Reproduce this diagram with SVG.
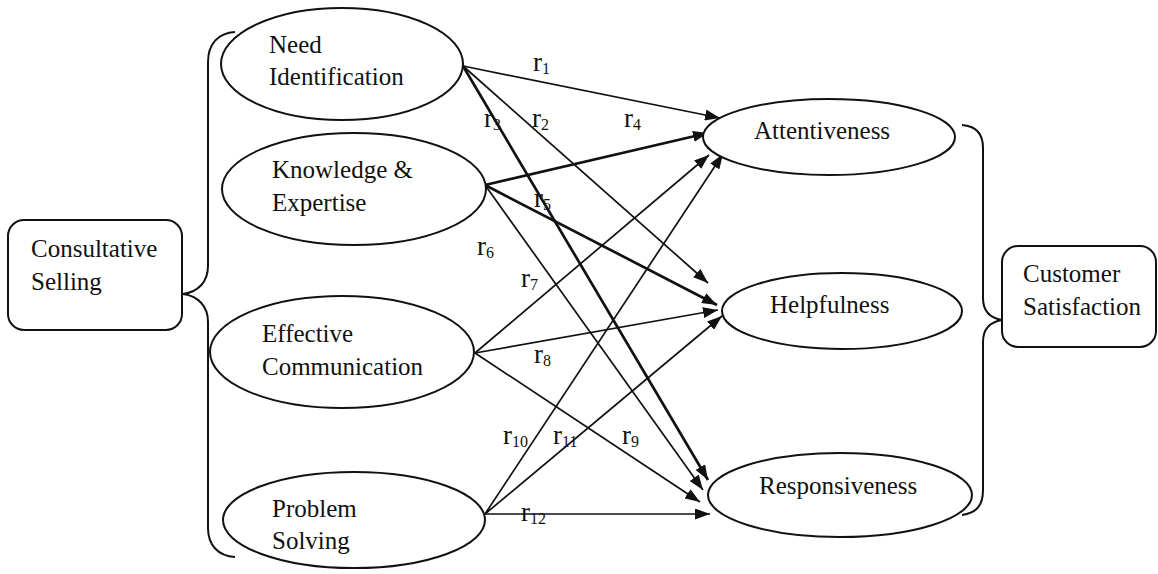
<svg xmlns="http://www.w3.org/2000/svg" width="1158" height="574" viewBox="0 0 1158 574">
<defs>
<style>
.node{fill:#fff;stroke:#111;stroke-width:2}
.brace{fill:none;stroke:#111;stroke-width:2}
text{font-family:'Liberation Serif','DejaVu Serif',serif;fill:#111}
.t{font-size:25px}
.r{font-size:27px}
.sub{font-size:16px}
.c{stroke:#111;stroke-width:1.7;fill:none;marker-end:url(#ah)}
.k{stroke-width:2.7}
</style>
<marker id="ah" markerUnits="userSpaceOnUse" markerWidth="15" markerHeight="11" refX="15" refY="5.5" orient="auto">
<path d="M0,0 L15,5.5 L0,11 z" fill="#111"/>
</marker>
</defs>
<rect width="1158" height="574" fill="#fff"/>

<g id="braces">
<path class="brace" d="M235,32 C218,33 208,44 208,62 L208,266 C208,282 198,292 183,294 C198,296 208,306 208,322 L208,528 C208,545 218,556 235,557"/>
<path class="brace" d="M962,125 C976,126 983,134 983,148 L983,298 C983,311 990,318 1002,320 C990,322 983,329 983,342 L983,490 C983,506 976,513 962,515"/>
</g>

<g id="connectors">
<line class="c" x1="463" y1="66" x2="720" y2="118"/>
<line class="c" x1="463" y1="66" x2="708" y2="283"/>
<line class="c k" x1="463" y1="66" x2="708" y2="480"/>
<line class="c k" x1="485" y1="185" x2="708" y2="133"/>
<line class="c k" x1="485" y1="185" x2="717" y2="305"/>
<line class="c" x1="485" y1="185" x2="703" y2="490"/>
<line class="c" x1="475" y1="353" x2="709" y2="155"/>
<line class="c" x1="475" y1="353" x2="718" y2="310"/>
<line class="c" x1="475" y1="353" x2="700" y2="502"/>
<line class="c" x1="485" y1="514" x2="723" y2="154"/>
<line class="c" x1="485" y1="514" x2="722" y2="316"/>
<line class="c" x1="485" y1="514" x2="710" y2="514"/>
</g>

<g id="labels" font-family="'Liberation Serif','DejaVu Serif',serif">
<text class="r" x="533" y="71">r<tspan class="sub" dy="3">1</tspan></text>
<text class="r" x="484" y="127">r<tspan class="sub" dy="3">3</tspan></text>
<text class="r" x="532" y="127">r<tspan class="sub" dy="3">2</tspan></text>
<text class="r" x="624" y="127">r<tspan class="sub" dy="3">4</tspan></text>
<text class="r" x="534" y="207">r<tspan class="sub" dy="3">5</tspan></text>
<text class="r" x="477" y="255">r<tspan class="sub" dy="3">6</tspan></text>
<text class="r" x="521" y="287">r<tspan class="sub" dy="3">7</tspan></text>
<text class="r" x="534" y="363">r<tspan class="sub" dy="3">8</tspan></text>
<text class="r" x="503" y="444">r<tspan class="sub" dy="3">10</tspan></text>
<text class="r" x="553" y="444">r<tspan class="sub" dy="3">11</tspan></text>
<text class="r" x="622" y="444">r<tspan class="sub" dy="3">9</tspan></text>
<text class="r" x="521" y="521">r<tspan class="sub" dy="3">12</tspan></text>
</g>

<g id="consultative-selling">
<rect class="node" x="8" y="220" width="174" height="110" rx="16"/>
<text class="t" x="31" y="257">Consultative</text>
<text class="t" x="31" y="290">Selling</text>
</g>

<g id="need-identification">
<ellipse class="node" cx="342" cy="64" rx="121" ry="56"/>
<text class="t" x="269" y="53">Need</text>
<text class="t" x="269" y="85">Identification</text>
</g>

<g id="knowledge-expertise">
<ellipse class="node" cx="354" cy="189" rx="132" ry="56"/>
<text class="t" x="272" y="178">Knowledge &amp;</text>
<text class="t" x="272" y="211">Expertise</text>
</g>

<g id="effective-communication">
<ellipse class="node" cx="342" cy="352" rx="132" ry="56"/>
<text class="t" x="262" y="342">Effective</text>
<text class="t" x="262" y="375">Communication</text>
</g>

<g id="problem-solving">
<ellipse class="node" cx="354" cy="520" rx="131" ry="48"/>
<text class="t" x="272" y="517">Problem</text>
<text class="t" x="272" y="549">Solving</text>
</g>

<g id="attentiveness">
<ellipse class="node" cx="829" cy="137" rx="126" ry="38"/>
<text class="t" x="754" y="139">Attentiveness</text>
</g>

<g id="helpfulness">
<ellipse class="node" cx="842" cy="311" rx="120" ry="38"/>
<text class="t" x="770" y="313">Helpfulness</text>
</g>

<g id="responsiveness">
<ellipse class="node" cx="840" cy="495" rx="132" ry="42"/>
<text class="t" x="759" y="494">Responsiveness</text>
</g>

<g id="customer-satisfaction">
<rect class="node" x="1002" y="246" width="154" height="101" rx="16"/>
<text class="t" x="1023" y="282">Customer</text>
<text class="t" x="1023" y="315">Satisfaction</text>
</g>
</svg>
